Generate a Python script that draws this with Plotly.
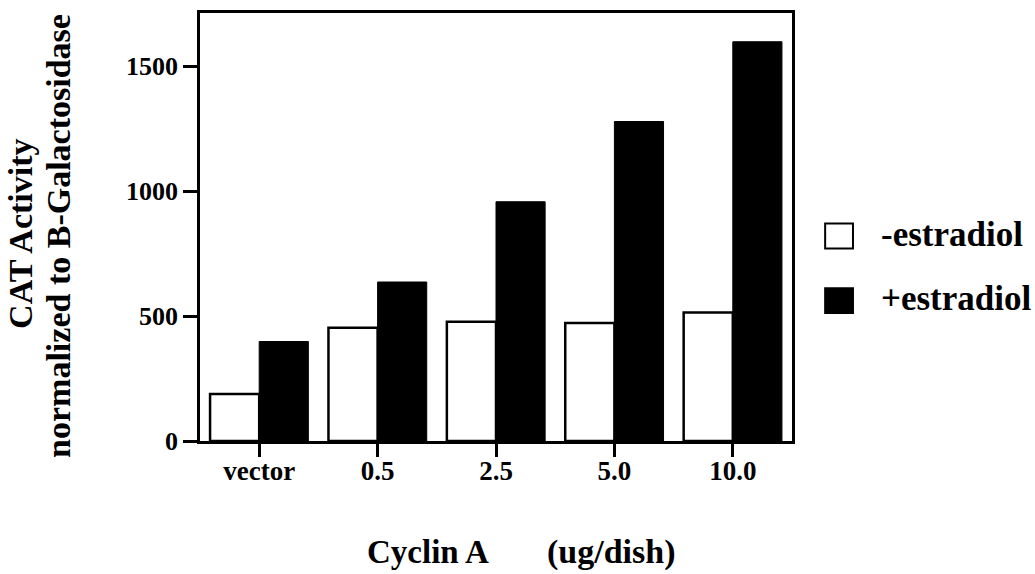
import plotly.graph_objects as go

categories = ["vector", "0.5", "2.5", "5.0", "10.0"]
minus_estradiol = [188, 453, 477, 472, 514]
plus_estradiol = [398, 636, 957, 1278, 1597]
y_ticks = [0, 500, 1000, 1500]
series_names = ["-estradiol", "+estradiol"]

FONT = "Liberation Serif"

fig = go.Figure()
fig.add_trace(go.Bar(x=categories, y=minus_estradiol, name=series_names[0],
                     marker=dict(color="white", line=dict(color="black", width=2.5)),
                     showlegend=False))
fig.add_trace(go.Bar(x=categories, y=plus_estradiol, name=series_names[1],
                     marker=dict(color="black", line=dict(color="black", width=1)),
                     showlegend=False))

fig.update_layout(
    width=1035, height=574,
    margin=dict(l=200, r=243, t=10, b=133),
    paper_bgcolor="white", plot_bgcolor="white",
    barmode="group", bargap=0.17, bargroupgap=0,
    font=dict(family=FONT, size=26, color="black"),
)
fig.update_xaxes(
    type="category", range=[-0.5, 4.5],
    showline=True, linecolor="black", linewidth=2.5, mirror=True,
    ticks="outside", ticklen=13, tickwidth=2.5, tickcolor="black",
    tickfont=dict(family=FONT, size=27, color="black", weight="bold"),
    ticklabelstandoff=-9,
    showgrid=False,
)
fig.update_yaxes(
    range=[0, 1712], tickvals=y_ticks,
    showline=True, linecolor="black", linewidth=2.5, mirror=True,
    ticks="outside", ticklen=14, tickwidth=2.5, tickcolor="black",
    tickfont=dict(family=FONT, size=26, color="black", weight="bold"),
    showgrid=False, zeroline=False,
)

bold = dict(family=FONT, color="black", weight="bold")
# Y-axis title (two lines)
fig.add_annotation(text="CAT Activity", xref="paper", yref="paper", x=-0.303, y=0.483,
                   textangle=-90, showarrow=False, xanchor="center", yanchor="middle",
                   font=dict(size=34, **bold))
fig.add_annotation(text="normalized to B-Galactosidase", xref="paper", yref="paper",
                   x=-0.239, y=0.478, textangle=-90, showarrow=False,
                   xanchor="center", yanchor="middle", font=dict(size=34, **bold))
# X-axis title
fig.add_annotation(text="Cyclin A", xref="paper", yref="paper", x=0.385, y=-0.26,
                   showarrow=False, xanchor="center", yanchor="middle",
                   font=dict(size=33, **bold))
fig.add_annotation(text="(ug/dish)", xref="paper", yref="paper", x=0.695, y=-0.26,
                   showarrow=False, xanchor="center", yanchor="middle",
                   font=dict(size=34, **bold))

# Legend (manual)
legend_items = [(series_names[0], "white", 0.479), (series_names[1], "black", 0.328)]
for name, fill, yc in legend_items:
    fig.add_shape(type="rect", xref="paper", yref="paper",
                  x0=1.056, x1=1.103, y0=yc - 0.029, y1=yc + 0.029,
                  fillcolor=fill, line=dict(color="black", width=2))
    fig.add_annotation(text=name, xref="paper", yref="paper", x=1.147, y=yc + 0.004,
                       showarrow=False, xanchor="left", yanchor="middle",
                       font=dict(size=35, **bold))

fig.write_html("out.html")
